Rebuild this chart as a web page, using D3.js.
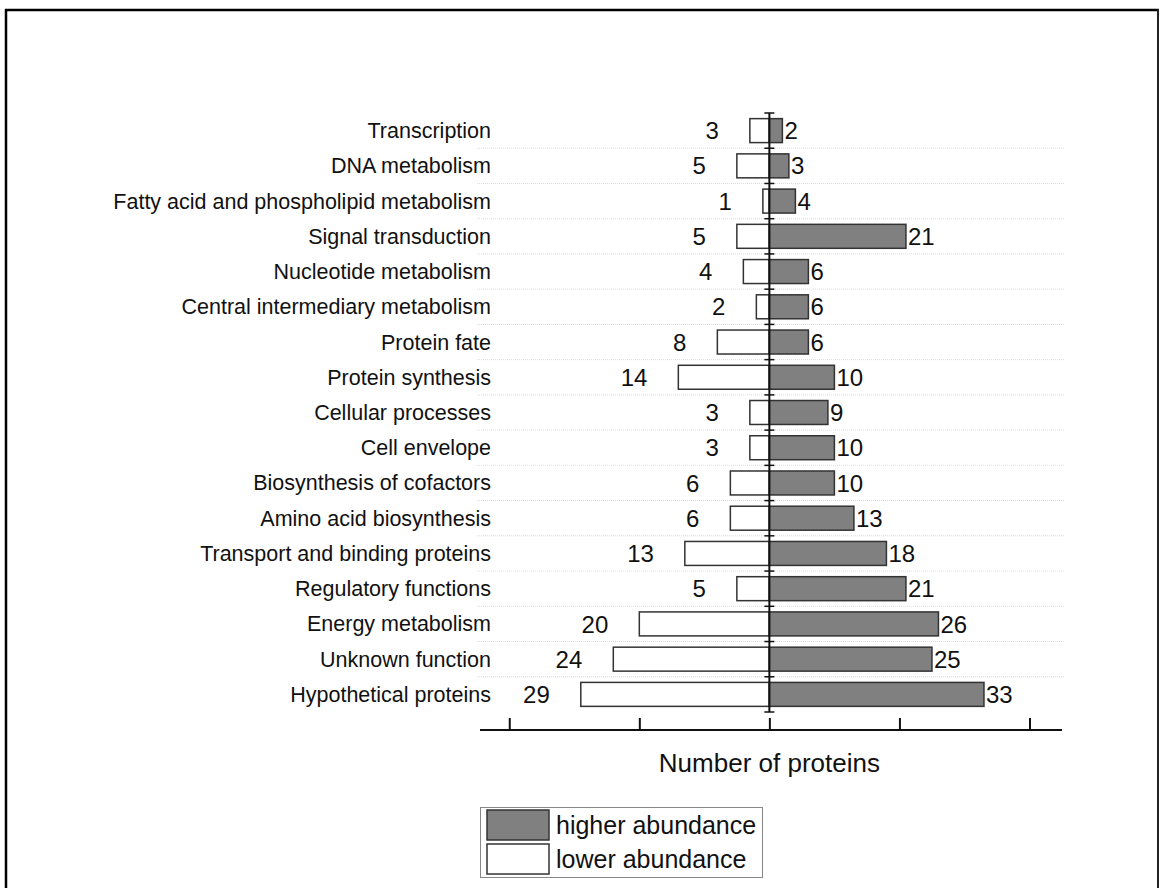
<!DOCTYPE html>
<html>
<head>
<meta charset="utf-8">
<script src="https://cdn.jsdelivr.net/npm/d3@7"></script>
<style>
  html, body { margin: 0; padding: 0; background: #fff; }
  svg { display: block; font-family: "Liberation Sans", Arial, sans-serif; }
</style>
</head>
<body>
<svg id="chart" width="1160" height="888"></svg>
<script>
const categories = [
  "Transcription",
  "DNA metabolism",
  "Fatty acid and phospholipid metabolism",
  "Signal transduction",
  "Nucleotide metabolism",
  "Central intermediary metabolism",
  "Protein fate",
  "Protein synthesis",
  "Cellular processes",
  "Cell envelope",
  "Biosynthesis of cofactors",
  "Amino acid biosynthesis",
  "Transport and binding proteins",
  "Regulatory functions",
  "Energy metabolism",
  "Unknown function",
  "Hypothetical proteins"
];
const lowerAbundance  = [3, 5, 1, 5, 4, 2, 8, 14, 3, 3, 6, 6, 13, 5, 20, 24, 29];
const higherAbundance = [2, 3, 4, 21, 6, 6, 6, 10, 9, 10, 10, 13, 18, 21, 26, 25, 33];
const xTicks = [-40, -20, 0, 20, 40];
const axisTitle = "Number of proteins";
const legendLabels = ["higher abundance", "lower abundance"];

const svg = d3.select("#chart");

// frame
svg.append("line").attr("x1", 6).attr("x2", 6).attr("y1", 9).attr("y2", 888)
  .attr("stroke", "#000").attr("stroke-width", 2.5);
svg.append("line").attr("x1", 5).attr("x2", 1159).attr("y1", 10).attr("y2", 10)
  .attr("stroke", "#000").attr("stroke-width", 2.5);
svg.append("line").attr("x1", 1158).attr("x2", 1158).attr("y1", 9).attr("y2", 888)
  .attr("stroke", "#222").attr("stroke-width", 2);

const x = d3.scaleLinear().domain([-44.5, 45]).range([480, 1062]);
const y = d3.scaleBand().domain(categories).range([113, 712])
  .paddingInner(0.32).paddingOuter(0.16);

// dotted gridlines between rows
const step = y.step();
const gridYs = categories.slice(1).map(c => y(c) - step * 0.16);
svg.append("g").selectAll("line").data(gridYs).join("line")
  .attr("x1", 477).attr("x2", 1065)
  .attr("y1", d => d).attr("y2", d => d)
  .attr("stroke", "#dddddd").attr("stroke-width", 1)
  .attr("stroke-dasharray", "1,1");

const rows = categories.map((c, i) => ({ c, lo: lowerAbundance[i], hi: higherAbundance[i] }));

// bars
svg.append("g").selectAll("rect").data(rows).join("rect")
  .attr("x", d => x(-d.lo)).attr("width", d => x(0) - x(-d.lo))
  .attr("y", d => y(d.c)).attr("height", y.bandwidth())
  .attr("fill", "#fff").attr("stroke", "#333").attr("stroke-width", 1.5);
svg.append("g").selectAll("rect").data(rows).join("rect")
  .attr("x", x(0)).attr("width", d => x(d.hi) - x(0))
  .attr("y", d => y(d.c)).attr("height", y.bandwidth())
  .attr("fill", "#808080").attr("stroke", "#333").attr("stroke-width", 1.5);

// category labels
svg.append("g").selectAll("text").data(rows).join("text")
  .attr("x", 491).attr("y", d => y(d.c) + y.bandwidth() / 2)
  .attr("dy", "0.35em").attr("text-anchor", "end")
  .attr("font-size", 21.5).attr("fill", "#111")
  .text(d => d.c);

// value labels
svg.append("g").selectAll("text").data(rows).join("text")
  .attr("x", d => x(-d.lo) - 31).attr("y", d => y(d.c) + y.bandwidth() / 2)
  .attr("dy", "0.36em").attr("text-anchor", "end")
  .attr("font-size", 24).attr("fill", "#111")
  .text(d => d.lo);
svg.append("g").selectAll("text").data(rows).join("text")
  .attr("x", d => x(d.hi) + 2).attr("y", d => y(d.c) + y.bandwidth() / 2)
  .attr("dy", "0.36em").attr("text-anchor", "start")
  .attr("font-size", 24).attr("fill", "#111")
  .text(d => d.hi);

// central vertical axis with row ticks
svg.append("line").attr("x1", x(0)).attr("x2", x(0)).attr("y1", 113).attr("y2", 712)
  .attr("stroke", "#111").attr("stroke-width", 2);
const rowTicks = [113].concat(gridYs, [712]);
svg.append("g").selectAll("line").data(rowTicks).join("line")
  .attr("x1", x(0) - 5).attr("x2", x(0) + 5)
  .attr("y1", d => d).attr("y2", d => d)
  .attr("stroke", "#111").attr("stroke-width", 1.5);

// bottom axis
const axis = d3.axisTop(x).tickValues(xTicks).tickSize(12).tickFormat("");
const gAxis = svg.append("g").attr("transform", "translate(0,730)").call(axis);
gAxis.select(".domain").attr("d", `M480,0H1062`).attr("stroke", "#111").attr("stroke-width", 2);
gAxis.selectAll(".tick line").attr("stroke", "#111").attr("stroke-width", 2);

svg.append("text").attr("x", x(0)).attr("y", 772)
  .attr("text-anchor", "middle").attr("font-size", 26).attr("fill", "#111")
  .text(axisTitle);

// legend
const lg = svg.append("g");
lg.append("rect").attr("x", 480.5).attr("y", 807.5).attr("width", 282).attr("height", 70)
  .attr("fill", "#fff").attr("stroke", "#888").attr("stroke-width", 1);
const legendFills = ["#808080", "#fff"];
legendLabels.forEach((t, i) => {
  lg.append("rect").attr("x", 487).attr("y", 810 + i * 34).attr("width", 62).attr("height", 30)
    .attr("fill", legendFills[i]).attr("stroke", "#333").attr("stroke-width", 1.5);
  lg.append("text").attr("x", 556).attr("y", 825 + i * 34).attr("dy", "0.36em")
    .attr("font-size", 25).attr("fill", "#111").text(t);
});
</script>
</body>
</html>
